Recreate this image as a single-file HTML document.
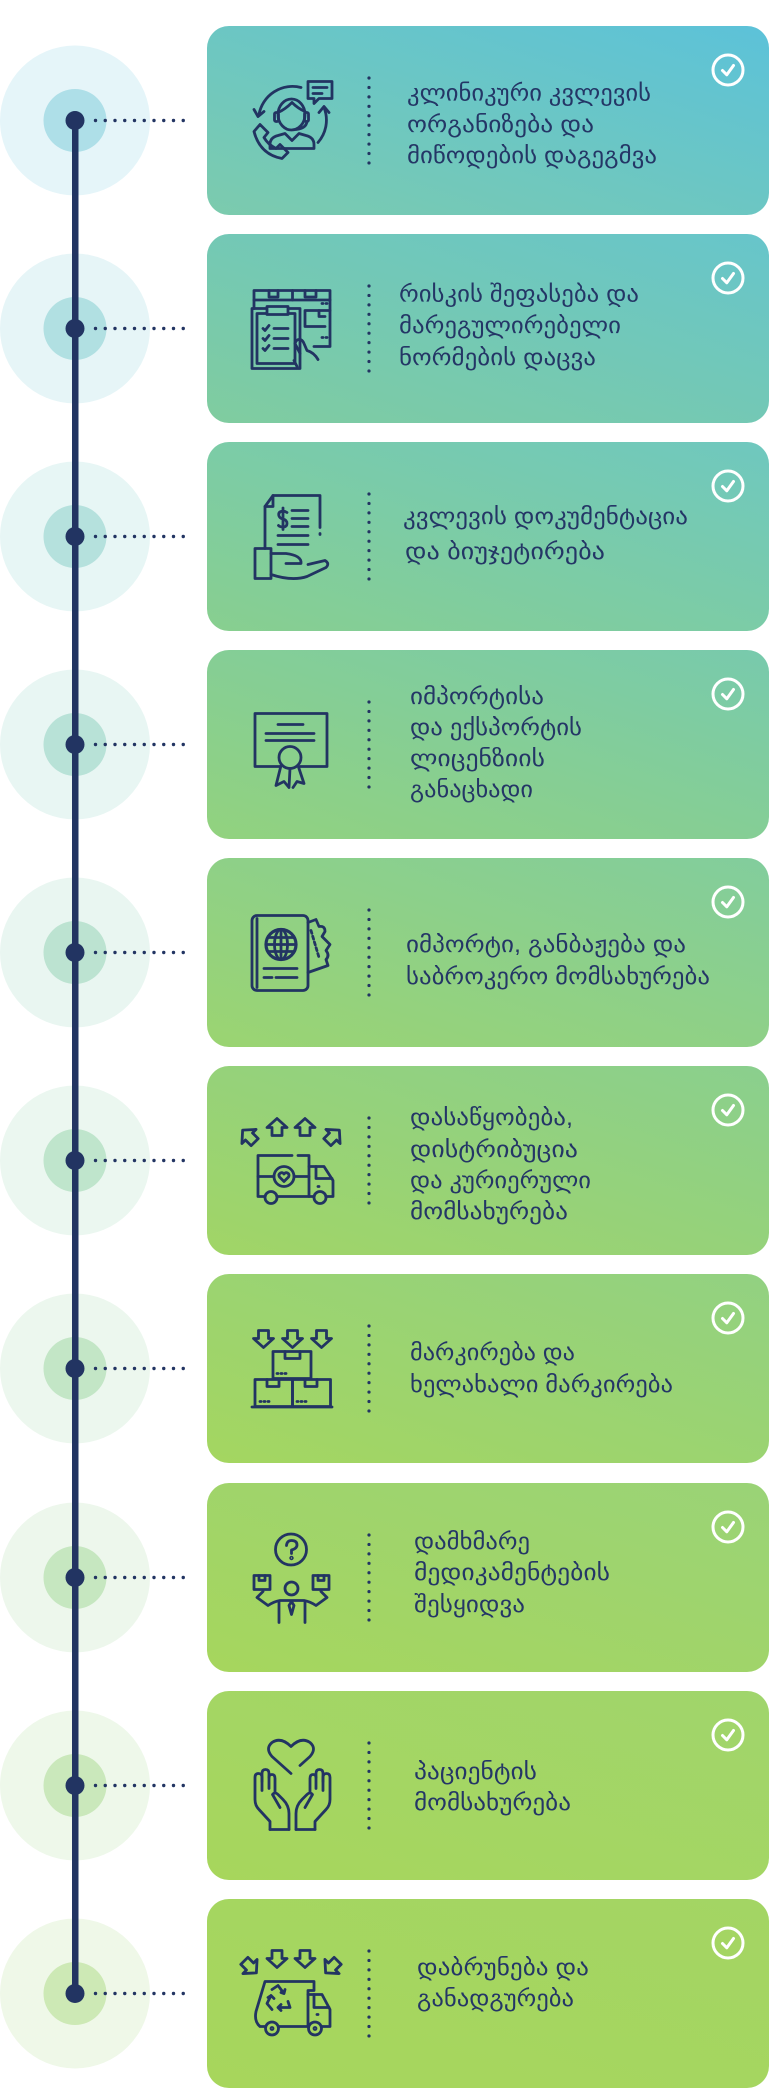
<!DOCTYPE html>
<html><head><meta charset="utf-8">
<style>
html,body{margin:0;padding:0;background:#fff;}
body{width:769px;height:2088px;overflow:hidden;}
svg{display:block;}
.t{font-family:"Liberation Sans","DejaVu Sans",sans-serif;font-size:23px;fill:#243666;}
.ic{fill:none;stroke:#223462;stroke-width:2.8;stroke-linecap:round;stroke-linejoin:round;}
.ck{fill:none;stroke:#fff;stroke-width:3;stroke-linecap:round;stroke-linejoin:round;}
</style></head>
<body>
<svg width="769" height="2088" viewBox="0 0 769 2088" xmlns="http://www.w3.org/2000/svg">
<defs>
<linearGradient id="g1" x1="1" y1="0" x2="0" y2="1"><stop offset="0" stop-color="#5cc2d9"/><stop offset="1" stop-color="#7ccbad"/></linearGradient>
<linearGradient id="g2" x1="1" y1="0" x2="0" y2="1"><stop offset="0" stop-color="#67c5cb"/><stop offset="1" stop-color="#80cc9f"/></linearGradient>
<linearGradient id="g3" x1="1" y1="0" x2="0" y2="1"><stop offset="0" stop-color="#6fc8bf"/><stop offset="1" stop-color="#88cf8f"/></linearGradient>
<linearGradient id="g4" x1="1" y1="0" x2="0" y2="1"><stop offset="0" stop-color="#78caad"/><stop offset="1" stop-color="#92d27e"/></linearGradient>
<linearGradient id="g5" x1="1" y1="0" x2="0" y2="1"><stop offset="0" stop-color="#82cd9d"/><stop offset="1" stop-color="#9bd471"/></linearGradient>
<linearGradient id="g6" x1="1" y1="0" x2="0" y2="1"><stop offset="0" stop-color="#8acf8e"/><stop offset="1" stop-color="#a1d566"/></linearGradient>
<linearGradient id="g7" x1="1" y1="0" x2="0" y2="1"><stop offset="0" stop-color="#92d182"/><stop offset="1" stop-color="#a4d660"/></linearGradient>
<linearGradient id="g8" x1="1" y1="0" x2="0" y2="1"><stop offset="0" stop-color="#9ad377"/><stop offset="1" stop-color="#a6d65d"/></linearGradient>
<linearGradient id="g9" x1="1" y1="0" x2="0" y2="1"><stop offset="0" stop-color="#a0d56c"/><stop offset="1" stop-color="#a7d65c"/></linearGradient>
<linearGradient id="g10" x1="1" y1="0" x2="0" y2="1"><stop offset="0" stop-color="#a3d564"/><stop offset="1" stop-color="#a7d65c"/></linearGradient>
<path id="au" d="M -5 8 V 0 H -10 L 0 -9 L 10 0 H 5 V 8 Z"/>
<path id="ad" d="M -5 -8 V 0 H -10 L 0 9 L 10 0 H 5 V -8 Z"/>
</defs>

<!-- left circles -->
<circle cx="75" cy="120.5" r="75" fill="rgb(229,245,249)"/><circle cx="75" cy="120.5" r="31.5" fill="rgb(174,223,232)"/>
<circle cx="75" cy="328.5" r="75" fill="rgb(230,245,247)"/><circle cx="75" cy="328.5" r="31.5" fill="rgb(177,224,226)"/>
<circle cx="75" cy="536.5" r="75" fill="rgb(231,246,245)"/><circle cx="75" cy="536.5" r="31.5" fill="rgb(181,225,221)"/>
<circle cx="75" cy="744.5" r="75" fill="rgb(232,246,243)"/><circle cx="75" cy="744.5" r="31.5" fill="rgb(184,226,215)"/>
<circle cx="75" cy="952.5" r="75" fill="rgb(233,246,241)"/><circle cx="75" cy="952.5" r="31.5" fill="rgb(188,227,209)"/>
<circle cx="75" cy="1160.5" r="75" fill="rgb(235,247,240)"/><circle cx="75" cy="1160.5" r="31.5" fill="rgb(191,229,204)"/>
<circle cx="75" cy="1368.5" r="75" fill="rgb(236,247,238)"/><circle cx="75" cy="1368.5" r="31.5" fill="rgb(195,230,198)"/>
<circle cx="75" cy="1577.5" r="75" fill="rgb(237,247,236)"/><circle cx="75" cy="1577.5" r="31.5" fill="rgb(198,231,192)"/>
<circle cx="75" cy="1785.5" r="75" fill="rgb(238,248,234)"/><circle cx="75" cy="1785.5" r="31.5" fill="rgb(202,232,187)"/>
<circle cx="75" cy="1993.5" r="75" fill="rgb(239,248,232)"/><circle cx="75" cy="1993.5" r="31.5" fill="rgb(205,233,181)"/>

<!-- vertical line -->
<rect x="72" y="120" width="6.5" height="1874" fill="#223462"/>

<!-- nodes + horizontal dots -->
<g fill="#223462">
<circle cx="75" cy="120.5" r="9.5"/><circle cx="75" cy="328.5" r="9.5"/><circle cx="75" cy="536.5" r="9.5"/><circle cx="75" cy="744.5" r="9.5"/><circle cx="75" cy="952.5" r="9.5"/>
<circle cx="75" cy="1160.5" r="9.5"/><circle cx="75" cy="1368.5" r="9.5"/><circle cx="75" cy="1577.5" r="9.5"/><circle cx="75" cy="1785.5" r="9.5"/><circle cx="75" cy="1993.5" r="9.5"/>
</g>
<g stroke="#223462" stroke-width="3.4" stroke-linecap="round" stroke-dasharray="0 9.75" fill="none">
<path d="M95.5 120.5 H184"/><path d="M95.5 328.5 H184"/><path d="M95.5 536.5 H184"/><path d="M95.5 744.5 H184"/><path d="M95.5 952.5 H184"/>
<path d="M95.5 1160.5 H184"/><path d="M95.5 1368.5 H184"/><path d="M95.5 1577.5 H184"/><path d="M95.5 1785.5 H184"/><path d="M95.5 1993.5 H184"/>
</g>

<!-- cards -->
<rect x="207" y="26" width="562" height="189" rx="22" fill="url(#g1)"/>
<rect x="207" y="234" width="562" height="189" rx="22" fill="url(#g2)"/>
<rect x="207" y="442" width="562" height="189" rx="22" fill="url(#g3)"/>
<rect x="207" y="650" width="562" height="189" rx="22" fill="url(#g4)"/>
<rect x="207" y="858" width="562" height="189" rx="22" fill="url(#g5)"/>
<rect x="207" y="1066" width="562" height="189" rx="22" fill="url(#g6)"/>
<rect x="207" y="1274" width="562" height="189" rx="22" fill="url(#g7)"/>
<rect x="207" y="1483" width="562" height="189" rx="22" fill="url(#g8)"/>
<rect x="207" y="1691" width="562" height="189" rx="22" fill="url(#g9)"/>
<rect x="207" y="1899" width="562" height="189" rx="22" fill="url(#g10)"/>

<!-- vertical dotted separators -->
<g stroke="#223462" stroke-width="3.2" stroke-linecap="round" stroke-dasharray="0 9.44" fill="none">
<path d="M369 78 V164"/><path d="M369 286 V372"/><path d="M369 494 V580"/><path d="M369 702 V788"/><path d="M369 910 V996"/>
<path d="M369 1118 V1204"/><path d="M369 1326 V1412"/><path d="M369 1535 V1621"/><path d="M369 1743 V1829"/><path d="M369 1951 V2037"/>
</g>

<!-- check icons -->
<g class="ck">
<g transform="translate(728,70)"><circle r="15"/><path d="M -5.5 0.5 L -1.2 4.8 L 5.5 -4.5"/></g>
<g transform="translate(728,278)"><circle r="15"/><path d="M -5.5 0.5 L -1.2 4.8 L 5.5 -4.5"/></g>
<g transform="translate(728,486)"><circle r="15"/><path d="M -5.5 0.5 L -1.2 4.8 L 5.5 -4.5"/></g>
<g transform="translate(728,694)"><circle r="15"/><path d="M -5.5 0.5 L -1.2 4.8 L 5.5 -4.5"/></g>
<g transform="translate(728,902)"><circle r="15"/><path d="M -5.5 0.5 L -1.2 4.8 L 5.5 -4.5"/></g>
<g transform="translate(728,1110)"><circle r="15"/><path d="M -5.5 0.5 L -1.2 4.8 L 5.5 -4.5"/></g>
<g transform="translate(728,1318)"><circle r="15"/><path d="M -5.5 0.5 L -1.2 4.8 L 5.5 -4.5"/></g>
<g transform="translate(728,1527)"><circle r="15"/><path d="M -5.5 0.5 L -1.2 4.8 L 5.5 -4.5"/></g>
<g transform="translate(728,1735)"><circle r="15"/><path d="M -5.5 0.5 L -1.2 4.8 L 5.5 -4.5"/></g>
<g transform="translate(728,1943)"><circle r="15"/><path d="M -5.5 0.5 L -1.2 4.8 L 5.5 -4.5"/></g>
</g>

<!-- icons -->
<g class="ic">
<!-- 1 headset operator -->
<g transform="translate(292,120.5)">
<ellipse cx="-0.5" cy="-6" rx="13.5" ry="15.5"/>
<path d="M -14 -8 Q -7 -11 0 -18 Q 6 -12 13 -9"/>
<rect x="-17.5" y="-8" width="4" height="9" rx="1.5"/>
<rect x="12.5" y="-8" width="4" height="9" rx="1.5"/>
<path d="M 15 1 Q 14 8 4 9"/>
<path d="M -22 28 V 24 Q -22 17 -14 15 L -7 13 L 0 20 L 7 13 L 14 15 Q 22 17 22 24 V 28 Z"/>
<path d="M -38 11 L -32 4 L -24 12 L -28 17 Q -24 24 -16 28 L -12 24 L -4 32 L -10 38 Q -32 34 -38 11 Z"/>
<path d="M 9 -33 A 34 34 0 0 0 -33 -6"/>
<path d="M -38 -11 L -34 -4 L -28 -9"/>
<path d="M 26 22 A 34 34 0 0 0 32 -13"/>
<path d="M 27 -8 L 32 -14 L 37 -8"/>
<path d="M 16 -39 H 40 V -22 H 27 L 22 -17 V -22 H 16 Z"/>
<path d="M 21 -33 H 35 M 21 -27 H 30"/>
</g>
<!-- 2 checklist + boxes -->
<g transform="translate(292,328.5)">
<path d="M -38 -20 V -38 H 38 V 18 H 22"/>
<path d="M -38 -28.5 H 38"/>
<path d="M -23 -38 V -31.5 H -14 V -38 M 13 -38 V -31.5 H 24 V -38 M 0.5 -38 V -28.5"/>
<path d="M 13 -18 H 38 M 13 -18 V -2 H 33"/>
<path d="M 27 -18 V -12 H 33"/>
<path d="M 30 -25 h1 M 34 -25 h1 M 30 9 h1 M 34 9 h1"/>
<rect x="-40" y="-20" width="48" height="60"/>
<rect x="-35" y="-15" width="38" height="50"/>
<rect x="-25" y="-22" width="21" height="8" fill="#78cab0"/>
<path d="M -29 0 L -27 2 L -23 -3 M -18 0 H -4"/>
<path d="M -29 10 L -27 12 L -23 7 M -18 10 H -4"/>
<path d="M -29 20 L -27 22 L -23 17 M -18 20 H -4"/>
<path d="M 3 15 C 5 9 10 10 12 15 L 15 22 Q 22 24 26 31 M 5 38 L 2 32 M 3 15 L 8 25"/>
</g>
<!-- 3 invoice in hand -->
<g transform="translate(292,536.5)">
<path d="M -27 12 V -30 L -19 -41 H 28 V -9"/>
<path d="M -27 -30 H -19 V -41"/>
<path d="M 28 -3 V -2"/>
<path d="M -5 -24 Q -8 -26 -11 -25 Q -14 -24 -13 -20.5 Q -12 -18 -9 -17.5 Q -5 -16.5 -5 -13 Q -5 -9.5 -9 -9.5 Q -12 -9.5 -13.5 -11 M -9 -28.5 V -7"/>
<path d="M 0 -26 H 16 M 0 -18 H 16 M 0 -10 H 16 M -14 -1 H 16 M -14 8 H 16"/>
<rect x="-37" y="12" width="16" height="30"/>
<path d="M -21 17 H -6 Q 10 19 9 27 H -6"/>
<path d="M -21 38 Q 0 45 15 40 L 34 31 Q 38 27 33 24 L 16 28"/>
</g>
<!-- 4 certificate -->
<g transform="translate(292,744.5)">
<path d="M -12 22 H -37 V -31 H 35 V 22 H 8"/>
<path d="M -14 -20 H 11 M -26 -11 H 22 M -26 -4 H 22"/>
<circle cx="-2" cy="13" r="11"/>
<path d="M -11 21 L -16 41 L -8 37 L -3 43 L -2 24 M 6 21 L 12 39 L 5 37 L 1 43"/>
</g>
<!-- 5 passport + ticket -->
<g transform="translate(292,952.5)">
<path d="M 16 -30 L 24 -33 L 27 -26 Q 33 -27 33 -21 L 30 -16 L 38 -8 L 34 -2 Q 38 3 34 7 L 36 13 L 16 20"/>
<path d="M 19 -22 L 27 5" stroke-dasharray="3 3"/>
<rect x="-40" y="-37" width="56" height="75" rx="5"/>
<path d="M -35 -34 V 35"/>
<circle cx="-11" cy="-8" r="15" stroke-width="3.2"/>
<ellipse cx="-11" cy="-8" rx="6.5" ry="15"/>
<path d="M -26 -8 H 4 M -11 -23 V 7 M -24 -15 H 2 M -24 -1 H 2"/>
<path d="M -28 16 H 5 M -28 25 H -20 M -16 25 H 5"/>
</g>
<!-- 6 delivery truck -->
<g transform="translate(292,1160.5)">
<use href="#au" transform="translate(-15,-33)"/>
<use href="#au" transform="translate(13,-33)"/>
<use href="#au" transform="translate(-43,-24) rotate(-45)"/>
<use href="#au" transform="translate(41,-24) rotate(45)"/>
<path d="M -28 36 H -34 V -5 H 0 M 6 -5 H 17 V 36"/>
<path d="M -14 36 H 21 M 17 6 H 32 L 41 20 V 36 H 35"/>
<path d="M 24 6 V 18 H 40 M 26 26 h1"/>
<circle cx="-21" cy="37" r="6"/>
<circle cx="28" cy="37" r="6"/>
<circle cx="-8" cy="16" r="10"/>
<path d="M -34 16 H -18 M 2 16 H 17"/>
<path d="M -8 21 L -12.5 16.5 Q -14 14 -11.5 12.5 Q -9.5 11.5 -8 13.5 Q -6.5 11.5 -4.5 12.5 Q -2 14 -3.5 16.5 Z"/>
</g>
<!-- 7 boxes with down arrows -->
<g transform="translate(292,1368.5)">
<use href="#ad" transform="translate(-28.5,-30)"/>
<use href="#ad" transform="translate(0.5,-30)"/>
<use href="#ad" transform="translate(29.5,-30)"/>
<rect x="-19" y="-17" width="38" height="27"/>
<path d="M -7 -17 V -10 H 8 V -17"/>
<rect x="-37" y="11" width="37.5" height="27"/>
<rect x="0.5" y="11" width="38" height="27"/>
<path d="M -25 11 V 18 H -13 V 11 M 13 11 V 18 H 25 V 11"/>
<path d="M -15 5 H -5 M -32 33 H -22 M 5 33 H 15" stroke-dasharray="1 3"/>
<path d="M -40 38.5 H 40"/>
</g>
<!-- 8 person juggling boxes -->
<g transform="translate(292,1577.5)">
<circle cx="-1" cy="-28" r="15.5"/>
<path d="M -5.5 -32 Q -5 -37 -0.5 -37 Q 5 -37 5 -32.5 Q 5 -29 -0.5 -27.5 V -24"/>
<circle cx="-0.5" cy="-19.5" r="0.8"/>
<rect x="-38" y="-2" width="16" height="14"/>
<path d="M -33 -2 V 3 H -27 V -2"/>
<rect x="21" y="-2" width="16" height="14"/>
<path d="M 26 -2 V 3 H 32 V -2"/>
<circle cx="-0.5" cy="11" r="6.5"/>
<path d="M -29 14 L -35 20 L -24 28 Q -18 24 -12 23 H 12 Q 18 24 24 28 L 35 20 L 29 14"/>
<path d="M -13 24 V 45 M 13 24 V 45"/>
<path d="M -0.5 24 L -3 28 L -0.5 37 L 2 28 Z"/>
</g>
<!-- 9 hands with heart -->
<g transform="translate(292,1785.5)">
<path d="M -1 -12 L -20 -29 Q -27 -37 -20 -43 Q -11 -49 -1 -39 Q 9 -49 18 -43 Q 25 -37 18 -29 L 8 -20"/>
<g>
<path d="M -22 44 V 36 L -33 24 Q -37 20 -37 14 V -8 Q -37 -12 -33.5 -12 Q -30 -12 -30 -8 V 5"/>
<path d="M -30 -4 V -12 Q -30 -16 -26.5 -16 Q -23 -16 -23 -12 V 3"/>
<path d="M -23 -8 Q -23 -11 -20 -11 Q -17 -11 -17 -7 V 6"/>
<path d="M -3 44 V 28 Q -3 20 -9 14 L -14 9 Q -17 6 -19.5 9 L -12 22"/>
<path d="M -22 44 H -3"/>
</g>
<g transform="translate(1,0) scale(-1,1)">
<path d="M -22 44 V 36 L -33 24 Q -37 20 -37 14 V -8 Q -37 -12 -33.5 -12 Q -30 -12 -30 -8 V 5"/>
<path d="M -30 -4 V -12 Q -30 -16 -26.5 -16 Q -23 -16 -23 -12 V 3"/>
<path d="M -23 -8 Q -23 -11 -20 -11 Q -17 -11 -17 -7 V 6"/>
<path d="M -3 44 V 28 Q -3 20 -9 14 L -14 9 Q -17 6 -19.5 9 L -12 22"/>
<path d="M -22 44 H -3"/>
</g>
</g>
<!-- 10 recycling truck -->
<g transform="translate(292,1993.5)">
<use href="#ad" transform="translate(-15,-35)"/>
<use href="#ad" transform="translate(13,-35)"/>
<use href="#au" transform="translate(-42,-27) rotate(135)"/>
<use href="#au" transform="translate(40,-27) rotate(-135)"/>
<path d="M -27 33 H -32 Q -38 28 -36 18 L -27 -12 H 22 V -3 H 16 V 33"/>
<path d="M -13 33 H 16 M 30 33 H 38 V 16 L 30 1 H 16"/>
<path d="M 22 1 V 14 H 37 M 25 21 h1"/>
<circle cx="-20" cy="35" r="6.5"/>
<circle cx="23" cy="35" r="6.5"/>
<circle cx="-20" cy="35" r="1"/>
<circle cx="23" cy="35" r="1"/>
<path d="M -20 -4 L -14 -8 L -8 0 M -11 -1 L -8 0 L -7 -4"/>
<path d="M -4 8 L -2 14 H -14 M -11 11 L -14 14 L -11 17"/>
<path d="M -20 16 L -25 10 L -21 2 M -24 4 L -21 2 L -18 5"/>
</g>
</g>

<!-- text -->
<g class="t">
<text x="407" y="100.5" textLength="244" lengthAdjust="spacingAndGlyphs">კლინიკური კვლევის</text>
<text x="407" y="132" textLength="187" lengthAdjust="spacingAndGlyphs">ორგანიზება და</text>
<text x="407" y="163" textLength="250" lengthAdjust="spacingAndGlyphs">მიწოდების დაგეგმვა</text>

<text x="399" y="301.5" textLength="240" lengthAdjust="spacingAndGlyphs">რისკის შეფასება და</text>
<text x="399" y="333" textLength="222" lengthAdjust="spacingAndGlyphs">მარეგულირებელი</text>
<text x="399" y="365" textLength="197" lengthAdjust="spacingAndGlyphs">ნორმების დაცვა</text>

<text x="403" y="524" textLength="285" lengthAdjust="spacingAndGlyphs">კვლევის დოკუმენტაცია</text>
<text x="405" y="559" textLength="200" lengthAdjust="spacingAndGlyphs">და ბიუჯეტირება</text>

<text x="410" y="704" textLength="134" lengthAdjust="spacingAndGlyphs">იმპორტისა</text>
<text x="410" y="735" textLength="172" lengthAdjust="spacingAndGlyphs">და ექსპორტის</text>
<text x="410" y="766" textLength="135" lengthAdjust="spacingAndGlyphs">ლიცენზიის</text>
<text x="410" y="797" textLength="123" lengthAdjust="spacingAndGlyphs">განაცხადი</text>

<text x="406" y="952" textLength="280" lengthAdjust="spacingAndGlyphs">იმპორტი, განბაჟება და</text>
<text x="406" y="984" textLength="304" lengthAdjust="spacingAndGlyphs">საბროკერო მომსახურება</text>

<text x="410" y="1125" textLength="163" lengthAdjust="spacingAndGlyphs">დასაწყობება,</text>
<text x="410" y="1157" textLength="168" lengthAdjust="spacingAndGlyphs">დისტრიბუცია</text>
<text x="410" y="1188" textLength="181" lengthAdjust="spacingAndGlyphs">და კურიერული</text>
<text x="410" y="1219" textLength="158" lengthAdjust="spacingAndGlyphs">მომსახურება</text>

<text x="410" y="1360" textLength="165" lengthAdjust="spacingAndGlyphs">მარკირება და</text>
<text x="410" y="1392" textLength="263" lengthAdjust="spacingAndGlyphs">ხელახალი მარკირება</text>

<text x="414" y="1549" textLength="116" lengthAdjust="spacingAndGlyphs">დამხმარე</text>
<text x="414" y="1580" textLength="196" lengthAdjust="spacingAndGlyphs">მედიკამენტების</text>
<text x="414" y="1612" textLength="111" lengthAdjust="spacingAndGlyphs">შესყიდვა</text>

<text x="414" y="1779" textLength="123" lengthAdjust="spacingAndGlyphs">პაციენტის</text>
<text x="414" y="1810" textLength="157" lengthAdjust="spacingAndGlyphs">მომსახურება</text>

<text x="417" y="1975" textLength="172" lengthAdjust="spacingAndGlyphs">დაბრუნება და</text>
<text x="417" y="2006" textLength="157" lengthAdjust="spacingAndGlyphs">განადგურება</text>
</g>
</svg>
</body></html>
